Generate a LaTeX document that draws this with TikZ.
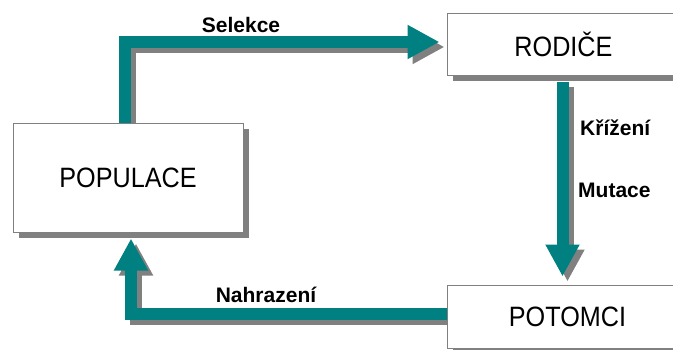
\documentclass[tikz,border=0pt]{standalone}
\usepackage{fontspec}
\setmainfont{Liberation Sans}
\usetikzlibrary{arrows.meta,shadows,backgrounds}
\definecolor{flowteal}{HTML}{008080}
\definecolor{shadegray}{HTML}{808080}
\begin{document}
\begin{tikzpicture}[x=1pt,y=-1pt,
  stagebox/.style={draw=shadegray, line width=1pt, fill=white, rectangle, inner sep=0pt,
    drop shadow={shadow xshift=6pt, shadow yshift=-6pt, fill=shadegray, opacity=1},
    font=\fontsize{28}{30}\selectfont},
  flow/.style={line width=12pt, draw=flowteal, line join=miter,
    -{Triangle[width=32pt,length=32pt]}},
  flowshade/.style={flow, draw=shadegray, transform canvas={shift={(5pt,-5pt)}}},
  steplabel/.style={font=\bfseries\fontsize{21}{24}\selectfont, inner sep=0pt}]
\useasboundingbox (0,0) rectangle (673,349);

% stages of the cycle
\node[stagebox, minimum width=230pt, minimum height=109pt] (pop) at (128,177.5)
  {\scalebox{0.9}[1]{POPULACE}};
\node[stagebox, minimum width=233pt, minimum height=62pt] (rod) at (563.5,44)
  {\scalebox{0.9}[1]{RODIČE}};
\node[stagebox, minimum width=233pt, minimum height=63pt] (pot) at (563.5,316.5)
  {\hspace{8pt}\scalebox{0.9}[1]{POTOMCI}};

% connectors with their shadows, behind the boxes
\begin{scope}[on background layer]
  \draw[flowshade] ([xshift=-3pt]pop.north) |- ([xshift=-7pt,yshift=2pt]rod.west);
  \draw[flowshade] ([xshift=-1pt,yshift=-6pt]rod.south) -- ([xshift=-1pt,yshift=8pt]pot.north);
  \draw[flowshade] ([yshift=3pt]pot.west) -| ([xshift=3pt,yshift=-6pt]pop.south);
  \draw[flow] ([xshift=-3pt]pop.north) |- ([xshift=-7pt,yshift=2pt]rod.west);
  \draw[flow] ([xshift=-1pt,yshift=-6pt]rod.south) -- ([xshift=-1pt,yshift=8pt]pot.north);
  \draw[flow] ([yshift=3pt]pot.west) -| ([xshift=3pt,yshift=-6pt]pop.south);
\end{scope}

% operation labels
\node[steplabel] (sel) at (241,25) {Selekce};
\node[steplabel, anchor=west] (kri) at (580,128) {Křížení};
\node[steplabel, anchor=west] (mut) at (578,190) {Mutace};
\node[steplabel] (nah) at (266,295) {Nahrazení};
\end{tikzpicture}
\end{document}
